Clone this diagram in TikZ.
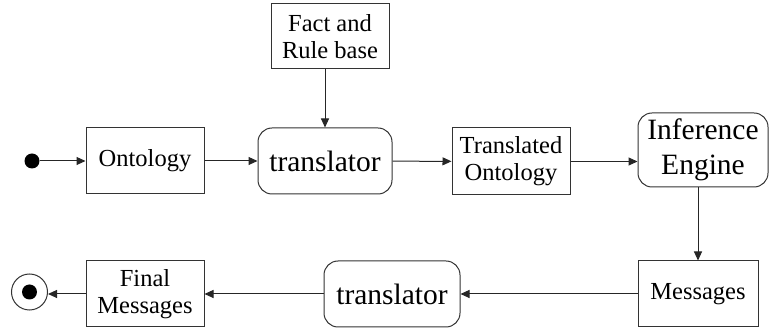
\documentclass[tikz,border=0pt]{standalone}
\usepackage{fontspec}
\setmainfont{LiberationSerif}[Extension=.ttf,UprightFont=*-Regular,BoldFont=*-Bold]
\usetikzlibrary{arrows.meta}
\begin{document}
\begin{tikzpicture}[x=1pt,y=-1pt,
  box/.style={draw=black!80,line width=1pt,inner sep=0pt,align=center,font=\rmfamily\fontsize{24.5}{27}\selectfont},
  rbox/.style={box,rounded corners=14pt,font=\rmfamily\fontsize{29.5}{35}\selectfont},
  conn/.style={draw=black!85,line width=1pt,-{Triangle[length=9pt,width=8pt]}}]
\useasboundingbox (0,0) rectangle (769,328);
% nodes
\node[box,minimum width=118pt,minimum height=65pt] (fact) at (330,36.5) {Fact and\\Rule base};
\node[fill=black,circle,inner sep=0pt,minimum size=15pt] (start) at (32,161) {};
\node[box,minimum width=118pt,minimum height=66pt] (onto) at (145,161) {Ontology};
\node[rbox,minimum width=134pt,minimum height=66pt] (tr1) at (325,161) {translator};
\node[box,minimum width=118pt,minimum height=67pt] (tonto) at (511,161.5) {Translated\\Ontology};
\node[rbox,minimum width=130pt,minimum height=74pt] (inf) at (703,150) {Inference\\Engine};
\node[box,minimum width=120pt,minimum height=66pt] (msg) at (698,294) {Messages};
\node[rbox,minimum width=136pt,minimum height=66pt] (tr2) at (392,294) {translator};
\node[box,minimum width=118pt,minimum height=66pt] (fmsg) at (145,294) {Final\\Messages};
\node[draw=black!80,line width=1pt,circle,inner sep=0pt,minimum size=36pt] (end) at (29.5,292) {};
\node[fill=black,circle,inner sep=0pt,minimum size=15pt] (endin) at (end.center) {};
% connectors
\draw[conn] (start) -- (onto);
\draw[conn] (onto) -- (tr1);
\draw[conn] (fact.south -| tr1.north) -- (tr1.north);
\draw[conn] (tr1) -- (tonto);
\coordinate (infin) at (inf.west |- tonto.east);
\draw[conn] (tonto.east) -- (infin);
\draw[conn] (inf.south -| msg.north) -- (msg.north);
\draw[conn] (msg) -- (tr2);
\draw[conn] (tr2) -- (fmsg);
\draw[conn] (fmsg.west) -- (end.east |- fmsg.west);
\end{tikzpicture}
\end{document}
